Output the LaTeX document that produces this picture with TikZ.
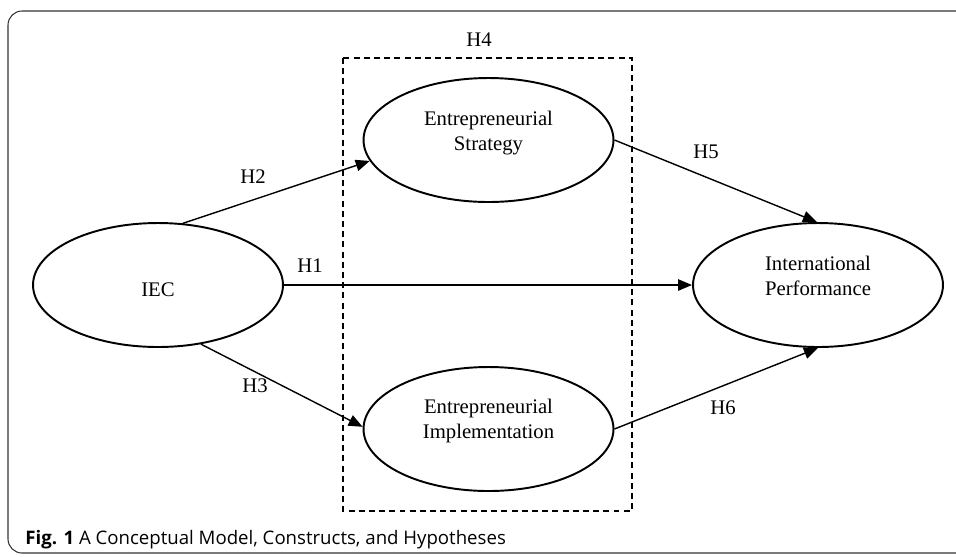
\documentclass[tikz,border=0pt]{standalone}
\usepackage{fontspec}
\setmainfont{Liberation Serif}
\newfontfamily\capfont{Open Sans}
\usepackage{tikz}
\usetikzlibrary{positioning,calc}
\usetikzlibrary{shapes.geometric, arrows.meta}
\tikzstyle{construct} = [ellipse, draw=black, line width=1.1pt, minimum width=5cm, minimum height=2.48cm, inner sep=0pt]
\tikzstyle{ctext} = [align=center, inner sep=0pt, font=\fontsize{11.8}{14}\selectfont]
\tikzstyle{arrow} = [line width=0.8pt,-{Triangle[length=8pt,width=6.5pt]}]
\tikzstyle{hyp} = [font=\fontsize{11.8}{14}\selectfont]

\begin{document}
\begin{tikzpicture}[x=0.02cm, y=-0.02cm]
    \useasboundingbox (0,0) rectangle (956,556);
    \begin{scope}
    \clip (0,0) rectangle (956,556);
    \draw[black!80, line width=0.6pt, rounded corners=8] (8,11) rectangle (970,553);
    \end{scope}
    % moderating box
    \draw[line width=0.8pt, dash pattern=on 3.4pt off 2.4pt] (343,58) rectangle (632,511);
    \node[hyp] (h4) at (479,40) {H4};
    % constructs
    \node[construct] (iec) at (158,285) {};
    \node[construct] (strat) at (488.5,140) {};
    \node[construct] (impl) at (488.5,429) {};
    \node[construct] (perf) at (818,285) {};
    \node[ctext] (iec-t) at ($(iec)+(0,5)$) {IEC};
    \node[ctext] (strat-t) at ($(strat)+(0,-7)$) {Entrepreneurial\\Strategy};
    \node[ctext] (impl-t) at ($(impl)+(0,-8)$) {Entrepreneurial\\Implementation};
    \node[ctext] (perf-t) at ($(perf)+(0,-9)$) {International\\Performance};
    % paths
    \draw[arrow] (iec.68) -- (strat.190);
    \draw[arrow] (iec.east) -- (perf.west);
    \draw[arrow] (iec.-54) -- (impl.179);
    \draw[arrow] (strat.east) -- (perf.91);
    \draw[arrow] (impl.east) -- (perf.south);
    \node[hyp] (h2) at (253,177) {H2};
    \node[hyp] (h1) at (310,266) {H1};
    \node[hyp] (h3) at (255,386) {H3};
    \node[hyp] (h5) at (706,152) {H5};
    \node[hyp] (h6) at (723,408) {H6};
    % caption
    \node[anchor=west, inner sep=0pt, font=\capfont\fontsize{10.6}{12}\selectfont] (cap) at (25,540) {\textbf{Fig. 1} A Conceptual Model, Constructs, and Hypotheses};
\end{tikzpicture}
\end{document}
